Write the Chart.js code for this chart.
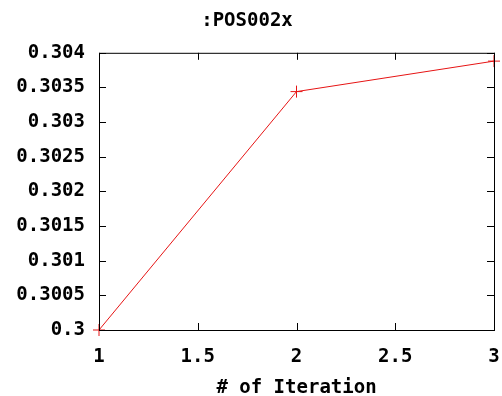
<!DOCTYPE html>
<html>
<head>
<meta charset="utf-8">
<script src="https://cdn.jsdelivr.net/npm/chart.js@4"></script>
<style>
  html, body { margin: 0; padding: 0; background: #fff; }
  #wrap { width: 502px; height: 396px; }
</style>
</head>
<body>
<div id="wrap"><canvas id="myChart"></canvas></div>
<script>
const iterations = [1, 2, 3];
const posValues = [0.3, 0.30344, 0.30388];
const xTicks = [1, 1.5, 2, 2.5, 3];
const yTicks = [0.3, 0.3005, 0.301, 0.3015, 0.302, 0.3025, 0.303, 0.3035, 0.304];

const fontFamily = "'DejaVu Sans Mono', 'Liberation Mono', monospace";
const tickFont = { family: fontFamily, size: 19, weight: "bold" };

// gnuplot style: small ticks pointing inward on all four sides
const inwardTicks = {
  id: "inwardTicks",
  afterDatasetsDraw(chart) {
    const { ctx, chartArea } = chart;
    const x = chart.scales.x;
    const y = chart.scales.y;
    const len = 7;
    ctx.save();
    ctx.strokeStyle = "#000";
    ctx.lineWidth = 1;
    ctx.beginPath();
    xTicks.forEach((v) => {
      const px = Math.round(x.getPixelForValue(v)) + 0.5;
      ctx.moveTo(px, chartArea.bottom);
      ctx.lineTo(px, chartArea.bottom - len);
      ctx.moveTo(px, chartArea.top);
      ctx.lineTo(px, chartArea.top + len);
    });
    yTicks.forEach((v) => {
      const py = Math.round(y.getPixelForValue(v)) + 0.5;
      ctx.moveTo(chartArea.left, py);
      ctx.lineTo(chartArea.left + len, py);
      ctx.moveTo(chartArea.right, py);
      ctx.lineTo(chartArea.right - len, py);
    });
    ctx.stroke();
    ctx.strokeRect(chartArea.left + 0.5, chartArea.top + 0.5, chartArea.width, chartArea.height);
    ctx.restore();
  },
};

const data = {
  datasets: [
    {
      label: ":POS002x",
      data: iterations.map((it, i) => ({ x: it, y: posValues[i] })),
      borderColor: "rgb(230, 20, 20)",
      backgroundColor: "rgb(230, 20, 20)",
      borderWidth: 1,
      pointStyle: "cross",
      pointRadius: 6,
      pointBorderWidth: 1,
      tension: 0,
      clip: false,
    },
  ],
};

const config = {
  type: "line",
  data: data,
  plugins: [inwardTicks],
  options: {
    responsive: true,
    maintainAspectRatio: false,
    animation: false,
    layout: { padding: { left: 0, right: 8, top: 0, bottom: 0 } },
    plugins: {
      legend: { display: false },
      tooltip: { enabled: false },
      title: {
        display: true,
        text: ":POS002x",
        color: "#000",
        font: tickFont,
        padding: { top: 10, bottom: 20 },
      },
    },
    scales: {
      x: {
        type: "linear",
        min: 1,
        max: 3,
        afterFit: (s) => {
          s.height = 66;
          s.paddingLeft = 0;
          s.paddingRight = 0;
        },
        afterBuildTicks: (s) => { s.ticks = xTicks.map((v) => ({ value: v })); },
        grid: { display: false, drawTicks: false },
        border: { display: false },
        ticks: {
          color: "#000",
          font: tickFont,
          padding: 16,
          maxRotation: 0,
          callback: (v) => String(parseFloat(v.toFixed(2))),
        },
        title: {
          display: true,
          text: "# of Iteration",
          color: "#000",
          font: tickFont,
          padding: { top: 0, bottom: -3 },
        },
      },
      y: {
        type: "linear",
        min: 0.3,
        max: 0.304,
        afterFit: (s) => { s.width = 99; },
        afterBuildTicks: (s) => { s.ticks = yTicks.map((v) => ({ value: v })); },
        grid: { display: false, drawTicks: false },
        border: { display: false },
        ticks: {
          color: "#000",
          font: tickFont,
          padding: 14,
          callback: (v) => String(parseFloat(v.toFixed(4))),
        },
      },
    },
  },
};

// eslint-disable-next-line no-undef
const myChart = new Chart(document.getElementById("myChart"), config);
</script>
</body>
</html>
